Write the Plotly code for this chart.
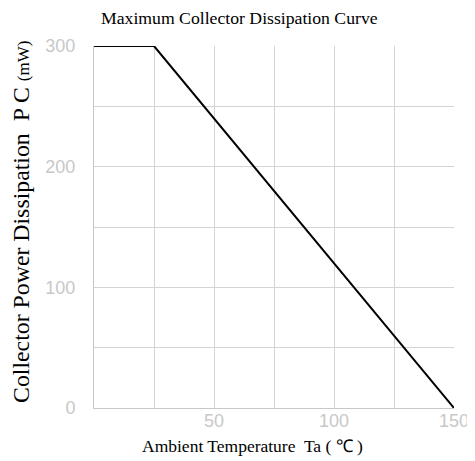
import plotly.graph_objects as go

temps = [0, 25, 150]
power = [300, 300, 0]
x_ticks = [50, 100, 150]
y_ticks = [0, 100, 200, 300]

fig = go.Figure()
fig.add_trace(go.Scatter(x=temps, y=power, mode="lines",
                         line=dict(color="black", width=2), showlegend=False,
                         hoverinfo="skip", cliponaxis=False))

tickfont = dict(family="Liberation Sans", size=18, color="#c8c8c8")
fig.update_xaxes(range=[0, 150], tickvals=x_ticks, ticktext=[str(v) for v in x_ticks],
                 showgrid=True, gridcolor="#d4d4d4", gridwidth=1,
                 showline=True, linecolor="#c8c8c8", linewidth=1,
                 zeroline=False, ticks="", tickfont=tickfont, ticklabelstandoff=-4,
                 ticklabeloverflow="allow", automargin=False)
fig.update_yaxes(range=[0, 300], tickvals=y_ticks, ticktext=[str(v) for v in y_ticks],
                 showgrid=True, gridcolor="#d4d4d4", gridwidth=1,
                 showline=True, linecolor="#c8c8c8", linewidth=1,
                 zeroline=False, ticks="", tickfont=tickfont, ticklabelstandoff=14,
                 automargin=False)
fig.update_xaxes(minor=dict(dtick=25, tick0=0, showgrid=True, gridcolor="#d4d4d4", gridwidth=1))
fig.update_yaxes(minor=dict(dtick=50, tick0=0, showgrid=True, gridcolor="#d4d4d4", gridwidth=1))

fig.update_layout(
    width=467, height=453,
    margin=dict(l=86, r=21, t=38, b=53),
    plot_bgcolor="white", paper_bgcolor="white",
    annotations=[
        dict(text="Maximum Collector Dissipation Curve", xref="paper", yref="paper",
             x=0.403, y=1.0, xanchor="center", yanchor="middle", yshift=28, showarrow=False,
             font=dict(family="Liberation Serif", size=17.7, color="black")),
        dict(text="Ambient Temperature  Ta ( ℃ )", xref="paper", yref="paper",
             x=0.439, y=0, xanchor="center", yanchor="middle", yshift=-38, showarrow=False,
             font=dict(family="Liberation Serif", size=17.5, color="black")),
        dict(text="Collector Power Dissipation  P C <span style='font-size:17px'>(mW)</span>",
             xref="paper", yref="paper", x=0, y=0.514, xanchor="center", yanchor="middle",
             xshift=-73, textangle=-90, showarrow=False,
             font=dict(family="Liberation Serif", size=23.8, color="black")),
    ],
)

fig.write_html("out.html")
